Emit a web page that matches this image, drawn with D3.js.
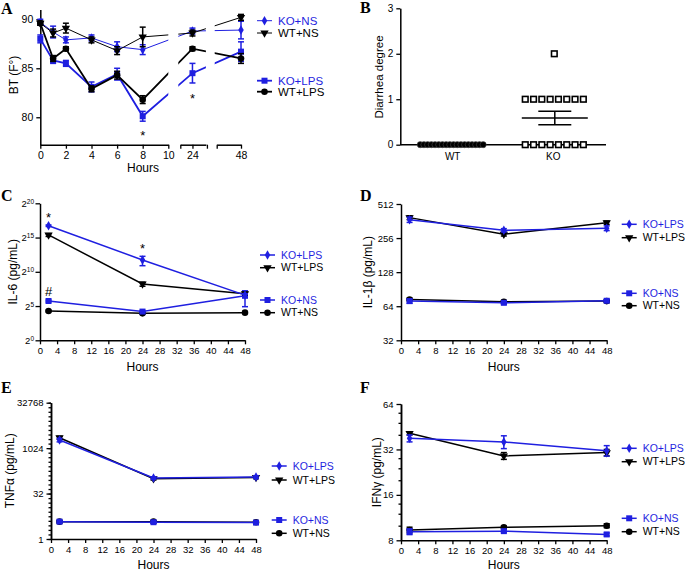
<!DOCTYPE html>
<html>
<head>
<meta charset="utf-8">
<script src="https://cdn.jsdelivr.net/npm/d3@7"></script>
<style>
  body { margin: 0; background: #fff; }
  svg { display: block; }
  text { font-family: 'Liberation Sans', Arial, Helvetica, sans-serif; }
  .letter { font-family: 'Liberation Serif', 'Times New Roman', serif; font-weight: bold; font-size: 16px; }
</style>
</head>
<body>
<svg width="685" height="571"></svg>
<script>
// ---- panel A: body temperature
const aHours = [0, 1, 2, 4, 6, 8, 24, 48];
const aKoNs = [89.7, 88.7, 87.9, 88.1, 87.2, 86.9, 88.8, 88.9];
const aKoNsErr = [0.3, 0.6, 0.3, 0.3, 0.5, 0.5, 0.3, 0.9];
const aWtNs = [89.6, 88.6, 89.1, 87.9, 86.8, 88.2, 88.6, 90.2];
const aWtNsErr = [0.2, 0.4, 0.5, 0.3, 0.4, 1.0, 0.3, 0.3];
const aKoLps = [88.0, 85.8, 85.5, 83.1, 84.4, 80.1, 84.5, 86.7];
const aKoLpsErr = [0.4, 0.3, 0.3, 0.5, 0.6, 0.5, 1.0, 1.0];
const aWtLps = [89.6, 86.0, 87.0, 82.9, 84.3, 81.8, 87.0, 86.0];
const aWtLpsErr = [0.2, 0.3, 0.2, 0.3, 0.4, 0.4, 0.2, 0.5];
const aStars = [{t: 8, v: 78.6, s: "*"}, {t: 24, v: 82.4, s: "*"}];

// ---- panel B: diarrhea degree
const bWt = [0, 0, 0, 0, 0, 0, 0, 0, 0, 0, 0, 0, 0, 0, 0, 0, 0, 0];
const bKo = [0, 0, 0, 0, 0, 0, 0, 0, 1, 1, 1, 1, 1, 1, 1, 1, 2];

// ---- panels C-F: cytokines (pg/mL)
const hours = [2, 24, 48];
const il6 = {
  koLps: [109000, 3400, 97], koLpsErr: [8000, 1500, 15],
  wtLps: [42600, 298, 111], wtLpsErr: [6000, 60, 20],
  koNs: [53.4, 18.3, 90], koNsErr: [5, 2, 60],
  wtNs: [19.4, 15.3, 16.4], wtNsErr: [1.5, 1, 1]
};
const il1b = {
  koLps: [372, 300, 313], koLpsErr: [20, 10, 15],
  wtLps: [388, 277, 350], wtLpsErr: [15, 10, 12],
  koNs: [71, 68.6, 71.5], koNsErr: [3, 2, 2],
  wtNs: [73.5, 70, 71], wtNsErr: [2, 2, 2]
};
const tnf = {
  koLps: [1900, 105, 113], koLpsErr: [250, 10, 12],
  wtLps: [2270, 100, 110], wtLpsErr: [250, 10, 10],
  koNs: [3.76, 3.6, 3.5], koNsErr: [0.3, 0.3, 0.3],
  wtNs: [3.76, 3.76, 3.6], wtNsErr: [0.3, 0.3, 0.3]
};
const ifng = {
  koLps: [37.9, 35.9, 31.4], koLpsErr: [2, 3.5, 2.5],
  wtLps: [40.9, 29, 30.5], wtLpsErr: [1, 1.5, 1.5],
  koNs: [9.13, 9.2, 8.75], koNsErr: [0.4, 0.2, 0.2],
  wtNs: [9.37, 9.75, 10], wtNsErr: [0.4, 0.2, 0.3]
};
const il6Marks = [{t: 2, v: Math.pow(2, 18.2), s: "*"}, {t: 24, v: Math.pow(2, 13.7), s: "*"}, {t: 2, v: Math.pow(2, 7.35), s: "#"}];
const hourTicks = [0, 4, 8, 12, 16, 20, 24, 28, 32, 36, 40, 44, 48];

const blue = "#1f1fe0";
const svg = d3.select("svg");

const sym = {
  square: d3.symbol().type(d3.symbolSquare).size(36),
  circle: d3.symbol().type(d3.symbolCircle).size(34),
  tri: d3.symbol().type(d3.symbolTriangle).size(30),
  diamond: d3.symbol().type(d3.symbolDiamond).size(26)
};

function styleAxis(g, fs) {
  g.select(".domain").attr("stroke", "#000").attr("stroke-width", 1.5);
  g.selectAll(".tick line").attr("stroke", "#000").attr("stroke-width", 1.3);
  g.selectAll(".tick text").attr("fill", "#000").style("font-size", fs + "px").style("font-family", null);
}

function marker(g, shape, x, y, color) {
  g.append("path")
    .attr("d", sym[shape]())
    .attr("transform", `translate(${x},${y})` + (shape === "tri" ? " rotate(180)" : ""))
    .attr("fill", color);
}

function drawSeries(g, x, y, times, vals, errs, color, shape, lw, clip) {
  const pts = times.map((t, i) => [x(t), y(vals[i])]);
  const path = g.append("path")
    .attr("d", d3.line()(pts))
    .attr("fill", "none")
    .attr("stroke", color)
    .attr("stroke-width", lw);
  if (clip) path.attr("clip-path", clip);
  times.forEach((t, i) => {
    const lo = Math.max(vals[i] - errs[i], 1e-6), hi = vals[i] + errs[i];
    const cx = x(t);
    g.append("line").attr("x1", cx).attr("x2", cx).attr("y1", y(lo)).attr("y2", y(hi))
      .attr("stroke", color).attr("stroke-width", 1.5);
    [lo, hi].forEach(v => g.append("line").attr("x1", cx - 3).attr("x2", cx + 3)
      .attr("y1", y(v)).attr("y2", y(v)).attr("stroke", color).attr("stroke-width", 1.5));
    marker(g, shape, cx, y(vals[i]), color);
  });
}

function legend(g, x0, rows, fs) {
  rows.forEach(r => {
    g.append("line").attr("x1", x0).attr("x2", x0 + 15).attr("y1", r.y).attr("y2", r.y)
      .attr("stroke", r.color).attr("stroke-width", r.lw);
    marker(g, r.shape, x0 + 7.5, r.y, r.color);
    g.append("text").attr("x", x0 + 21).attr("y", r.y).attr("dy", "0.36em")
      .attr("fill", r.color).style("font-size", fs + "px").text(r.label);
  });
}

function yLabel(x, y, txt, fs) {
  svg.append("text").attr("transform", `translate(${x},${y}) rotate(-90)`)
    .attr("text-anchor", "middle").attr("dy", "0.35em").style("font-size", fs + "px").text(txt);
}

function letter(x, y, s) {
  svg.append("text").attr("class", "letter").attr("x", x).attr("y", y).text(s);
}

// ================= Panel A =================
{
  const g = svg.append("g");
  const segs = [
    d3.scaleLinear().domain([0, 10]).range([40.3, 168.3]),
    d3.scaleLinear().domain([23.05, 25.05]).range([180.3, 205.9]),
    d3.scaleLinear().domain([46.1, 48]).range([216.7, 241])
  ];
  const segTicks = [[0, 2, 4, 6, 8, 10], [23.05, 24, 25.13], [46.1, 48]];
  const segLabels = [[0, 2, 4, 6, 8, 10], [24], [48]];
  const x = t => t <= 10 ? segs[0](t) : (t <= 30 ? segs[1](t) : segs[2](t));
  const y = d3.scaleLinear().domain([77.2, 91]).range([144.7, 9.5]);

  const clip = svg.append("defs").append("clipPath").attr("id", "clipA");
  segs.forEach(s => clip.append("rect").attr("x", s.range()[0] - 2).attr("y", 0)
    .attr("width", s.range()[1] - s.range()[0] + 2 + (s === segs[2] ? 6 : 0)).attr("height", 150));

  g.append("g").attr("transform", "translate(40.3,0)")
    .call(d3.axisLeft(y).tickValues([80, 85, 90]).tickSize(4).tickSizeOuter(0))
    .call(a => styleAxis(a, 10.5));

  segs.forEach((s, i) => {
    g.append("g").attr("transform", "translate(0,144.7)")
      .call(d3.axisBottom(s).tickValues(segTicks[i]).tickSize(4).tickSizeOuter(0)
        .tickFormat(d => segLabels[i].includes(d) ? d : ""))
      .call(a => styleAxis(a, 10.5));
  });

  drawSeries(g, x, y, aHours, aKoNs, aKoNsErr, blue, "diamond", 1, "url(#clipA)");
  drawSeries(g, x, y, aHours, aWtNs, aWtNsErr, "#000", "tri", 1, "url(#clipA)");
  drawSeries(g, x, y, aHours, aKoLps, aKoLpsErr, blue, "square", 1.8, "url(#clipA)");
  drawSeries(g, x, y, aHours, aWtLps, aWtLpsErr, "#000", "circle", 1.8, "url(#clipA)");

  aStars.forEach(d => g.append("text").attr("x", x(d.t)).attr("y", y(d.v)).attr("dy", "0.7em")
    .attr("text-anchor", "middle").style("font-size", "13px").text(d.s));

  legend(g, 257, [
    {y: 20.7, label: "KO+NS", color: blue, shape: "diamond", lw: 1},
    {y: 33, label: "WT+NS", color: "#000", shape: "tri", lw: 1},
    {y: 80.7, label: "KO+LPS", color: blue, shape: "square", lw: 1.8},
    {y: 91.7, label: "WT+LPS", color: "#000", shape: "circle", lw: 1.8}
  ], 11.5);

  g.append("text").attr("x", 143).attr("y", 172).attr("text-anchor", "middle").style("font-size", "12px").text("Hours");
  yLabel(13.5, 75, "BT (F°)", 12);
  letter(1, 14, "A");
}

// ================= Panel B =================
{
  const g = svg.append("g");
  const y = d3.scaleLinear().domain([0, 3]).range([144.7, 8.3]);
  const x = d3.scalePoint().domain(["WT", "KO"]).range([452.7, 553.3]);

  g.append("g").attr("transform", "translate(400.3,0)")
    .call(d3.axisLeft(y).tickValues([0, 1, 2, 3]).tickFormat(d3.format("d")).tickSize(4).tickSizeOuter(0))
    .call(a => styleAxis(a, 10));
  g.append("line").attr("x1", 400.3).attr("x2", 606).attr("y1", 144.7).attr("y2", 144.7)
    .attr("stroke", "#000").attr("stroke-width", 1.5);
  ["WT", "KO"].forEach(k => g.append("text").attr("x", x(k)).attr("y", 160)
    .attr("text-anchor", "middle").style("font-size", "10px").text(k));

  // spread points sharing a value horizontally
  function spread(vals, step) {
    const groups = d3.group(vals.map((v, i) => ({v, i})), d => d.v);
    const out = [];
    groups.forEach(arr => arr.forEach((d, j) => out.push({v: d.v, off: (j - (arr.length - 1) / 2) * step})));
    return out;
  }
  spread(bWt, 3.7).forEach(d => g.append("circle").attr("cx", x("WT") - 1 + d.off).attr("cy", y(d.v)).attr("r", 3.1)
    .attr("fill", "#000").attr("stroke", "#555").attr("stroke-width", 0.5));
  spread(bKo, 8.3).forEach(d => g.append("rect").attr("x", x("KO") + 1 + d.off - 2.8).attr("y", y(d.v) - 2.8)
    .attr("width", 5.6).attr("height", 5.6).attr("fill", "#fff").attr("stroke", "#000").attr("stroke-width", 1.6));

  const m = d3.mean(bKo), sem = d3.deviation(bKo) / Math.sqrt(bKo.length);
  const cx = x("KO") + 1.5;
  g.append("line").attr("x1", cx - 33).attr("x2", cx + 33).attr("y1", y(m)).attr("y2", y(m)).attr("stroke", "#000").attr("stroke-width", 1.5);
  g.append("line").attr("x1", cx).attr("x2", cx).attr("y1", y(m - sem)).attr("y2", y(m + sem)).attr("stroke", "#000").attr("stroke-width", 1.5);
  [m - sem, m + sem].forEach(v => g.append("line").attr("x1", cx - 16.5).attr("x2", cx + 16.5).attr("y1", y(v)).attr("y2", y(v))
    .attr("stroke", "#000").attr("stroke-width", 1.5));

  yLabel(379, 77, "Diarrhea degree", 11.5);
  letter(360, 13, "B");
}

// ================= Panels C-F =================
function cytoPanel(o) {
  const g = svg.append("g");
  const x = d3.scaleLinear().domain([0, 48]).range(o.xr);
  const y = d3.scaleLog().base(2).domain(o.yd).range(o.yr);

  if (o.minor) {
    g.append("g").attr("transform", `translate(${o.xr[0]},0)`)
      .call(d3.axisLeft(y).tickValues(o.minor).tickSize(2.5).tickFormat("").tickSizeOuter(0))
      .call(a => styleAxis(a, 9.5));
  }
  const ya = g.append("g").attr("transform", `translate(${o.xr[0]},0)`)
    .call(d3.axisLeft(y).tickValues(o.yt).tickSize(4.5).tickSizeOuter(0).tickFormat(o.power ? "" : d3.format("d")))
    .call(a => styleAxis(a, 9.5));
  if (o.power) {
    ya.selectAll(".tick").each(function(d) {
      const t = d3.select(this).append("text").attr("x", -6).attr("dy", "0.32em")
        .attr("text-anchor", "end").attr("fill", "#000").style("font-size", "9.5px");
      t.append("tspan").text("2");
      t.append("tspan").attr("dy", "-0.45em").style("font-size", "6.5px").text(Math.round(Math.log2(d)));
    });
  }
  g.append("g").attr("transform", `translate(0,${o.yr[0]})`)
    .call(d3.axisBottom(x).tickValues(hourTicks).tickSize(4).tickSizeOuter(0))
    .call(a => styleAxis(a, 9.5));

  const d = o.data;
  drawSeries(g, x, y, hours, d.wtNs, d.wtNsErr, "#000", "circle", 1.5);
  drawSeries(g, x, y, hours, d.koNs, d.koNsErr, blue, "square", 1.5);
  drawSeries(g, x, y, hours, d.wtLps, d.wtLpsErr, "#000", "tri", 1.5);
  drawSeries(g, x, y, hours, d.koLps, d.koLpsErr, blue, "diamond", 1.5);

  (o.marks || []).forEach(m => g.append("text").attr("x", x(m.t)).attr("y", y(m.v)).attr("dy", "0.5em")
    .attr("text-anchor", "middle").style("font-size", "13px").text(m.s));

  legend(g, o.lx, [
    {y: o.ly[0], label: "KO+LPS", color: blue, shape: "diamond", lw: 1.5},
    {y: o.ly[1], label: "WT+LPS", color: "#000", shape: "tri", lw: 1.5},
    {y: o.ly[2], label: "KO+NS", color: blue, shape: "square", lw: 1.5},
    {y: o.ly[3], label: "WT+NS", color: "#000", shape: "circle", lw: 1.5}
  ], 10.5);

  g.append("text").attr("x", (o.xr[0] + o.xr[1]) / 2).attr("y", o.hy).attr("text-anchor", "middle")
    .style("font-size", "12px").text("Hours");
  yLabel(o.lblX, (o.yr[0] + o.yr[1]) / 2, o.label, 12);
  letter(o.letterX, o.letterY, o.letter);
}

cytoPanel({
  data: il6, xr: [40, 245], yd: [1, Math.pow(2, 20)], yr: [340.3, 203.3],
  yt: [1, 32, 1024, 32768, 1048576], power: true, marks: il6Marks,
  lx: 260, ly: [255, 267.7, 300, 312.7], hy: 371, lblX: 13, label: "IL-6 (pg/mL)",
  letter: "C", letterX: 1, letterY: 201
});
cytoPanel({
  data: il1b, xr: [401, 606.7], yd: [32, 512], yr: [340.3, 204],
  yt: [32, 64, 128, 256, 512],
  lx: 621.7, ly: [224.3, 237.7, 293.3, 305.7], hy: 371, lblX: 368, label: "IL-1β (pg/mL)",
  letter: "D", letterX: 360, letterY: 201
});
cytoPanel({
  data: tnf, xr: [51, 256], yd: [1, 32768], yr: [539, 402.7],
  yt: [1, 32, 1024, 32768],
  minor: d3.range(0, 15.01, 0.5).map(e => Math.pow(2, e)),
  lx: 271.7, ly: [466, 480, 520, 533.3], hy: 569, lblX: 10, label: "TNFα (pg/mL)",
  letter: "E", letterX: 1, letterY: 393
});
cytoPanel({
  data: ifng, xr: [401, 606.7], yd: [8, 64], yr: [540.3, 404],
  yt: [8, 16, 32, 64],
  minor: [10, 12, 14, 20, 24, 28, 40, 48, 56],
  lx: 621.7, ly: [448.3, 461.7, 518.3, 531.7], hy: 569, lblX: 377, label: "IFNγ (pg/mL)",
  letter: "F", letterX: 360, letterY: 393
});
</script>
</body>
</html>
